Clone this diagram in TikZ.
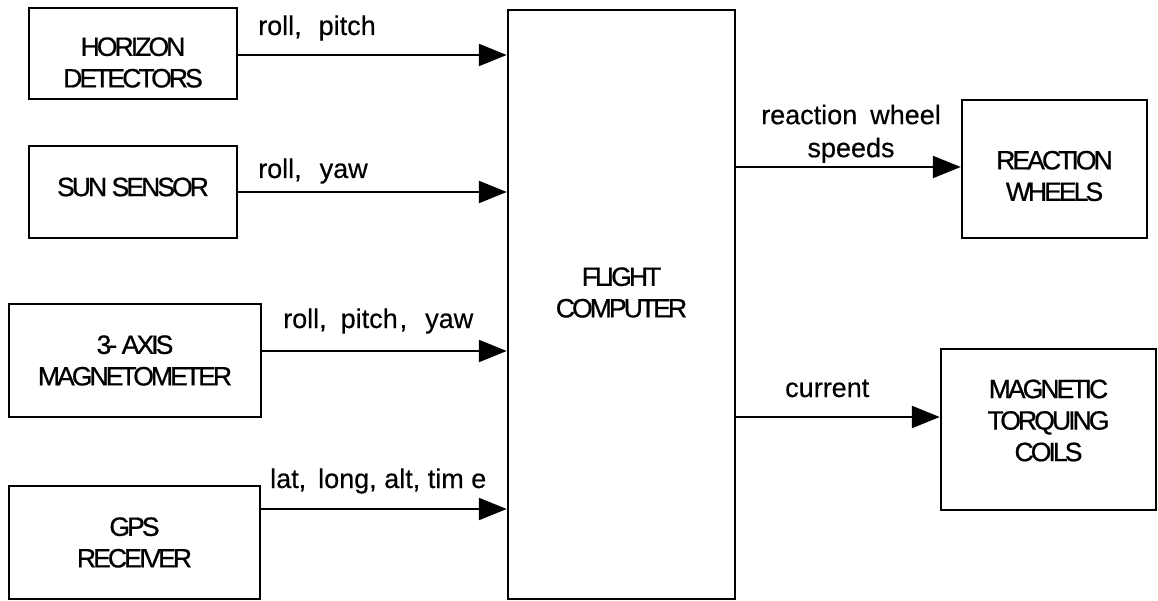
\documentclass[tikz,border=0pt]{standalone}
\usepackage{fontspec}
\setmainfont{Liberation Sans}
\newfontfamily\boxfont[LetterSpace=-11,FakeBold=0.8]{Liberation Sans}
\newfontfamily\lblfont[FakeBold=0.4]{Liberation Sans}
\usetikzlibrary{arrows.meta}
\begin{document}
\begin{tikzpicture}[x=1pt,y=-1pt,
  box/.style={draw, line width=2.5pt, inner sep=0pt},
  boxtxt/.style={inner sep=0pt, align=center,
    font=\boxfont\fontsize{26.5}{31.5}\selectfont},
  arr/.style={line width=2.4pt, -{Triangle[length=28pt,width=22pt]}},
  lbl/.style={inner sep=0pt, font=\lblfont\fontsize{27}{33}\selectfont}]
\useasboundingbox (0,0) rectangle (1158,601);
% boxes
\node[box, minimum width=208pt, minimum height=91pt,
  label={[boxtxt, yshift=-9pt]center:HORIZON\\DETECTORS}] (hd) at (133,53.5) {};
\node[box, minimum width=208pt, minimum height=92pt,
  label={[boxtxt, yshift=5pt]center:SUN SENSOR}] (ss) at (133,192) {};
\node[box, minimum width=252pt, minimum height=113pt,
  label={[boxtxt]center:3- AXIS\\MAGNETOMETER}] (mag) at (135,360.5) {};
\node[box, minimum width=251pt, minimum height=113pt,
  label={[boxtxt]center:GPS\\RECEIVER}] (gps) at (134.5,542.5) {};
\node[box, minimum width=227pt, minimum height=589pt,
  label={[boxtxt, yshift=12pt]center:FLIGHT\\COMPUTER}] (fc) at (621.5,304.5) {};
\node[box, minimum width=185pt, minimum height=138pt,
  label={[boxtxt, yshift=-7pt]center:REACTION\\WHEELS}] (rw) at (1054.5,169) {};
\node[box, minimum width=215pt, minimum height=161pt,
  label={[boxtxt, yshift=9pt]center:MAGNETIC\\TORQUING\\COILS}] (mtc) at (1048.5,429.5) {};
% connectors
\draw[arr] ([yshift=-1.5pt]hd.east) -- ([yshift=-1.5pt]hd.east -| fc.west);
\draw[arr] (ss.east) -- (ss.east -| fc.west);
\draw[arr] ([yshift=9.5pt]mag.east) -- ([yshift=9.5pt]mag.east -| fc.west);
\draw[arr] ([yshift=33.5pt]gps.east) -- ([yshift=33.5pt]gps.east -| fc.west);
\draw[arr] ([yshift=2pt]rw.west -| fc.east) -- ([yshift=2pt]rw.west);
\draw[arr] ([yshift=12.5pt]mtc.west -| fc.east) -- ([yshift=12.5pt]mtc.west);
% labels
\node[lbl, anchor=base west] (l1) at (258,35) {roll,\hspace{17pt}pitch};
\node[lbl, anchor=base west] (l2) at (258,178) {roll,\hspace{18pt}yaw};
\node[lbl, anchor=base west] (l3) at (283,328) {roll,\hspace{14pt}pitch\hspace{2pt},\hspace{18pt}yaw};
\node[lbl, anchor=base west] (l4) at (270,488) {lat,\hspace{12pt}long, alt, tim e};
\node[lbl, anchor=south, align=center] (l5) at (851,163) {reaction\hspace{13pt}wheel\\speeds};
\node[lbl, anchor=base west] (l6) at (785,397) {current};
\end{tikzpicture}
\end{document}
